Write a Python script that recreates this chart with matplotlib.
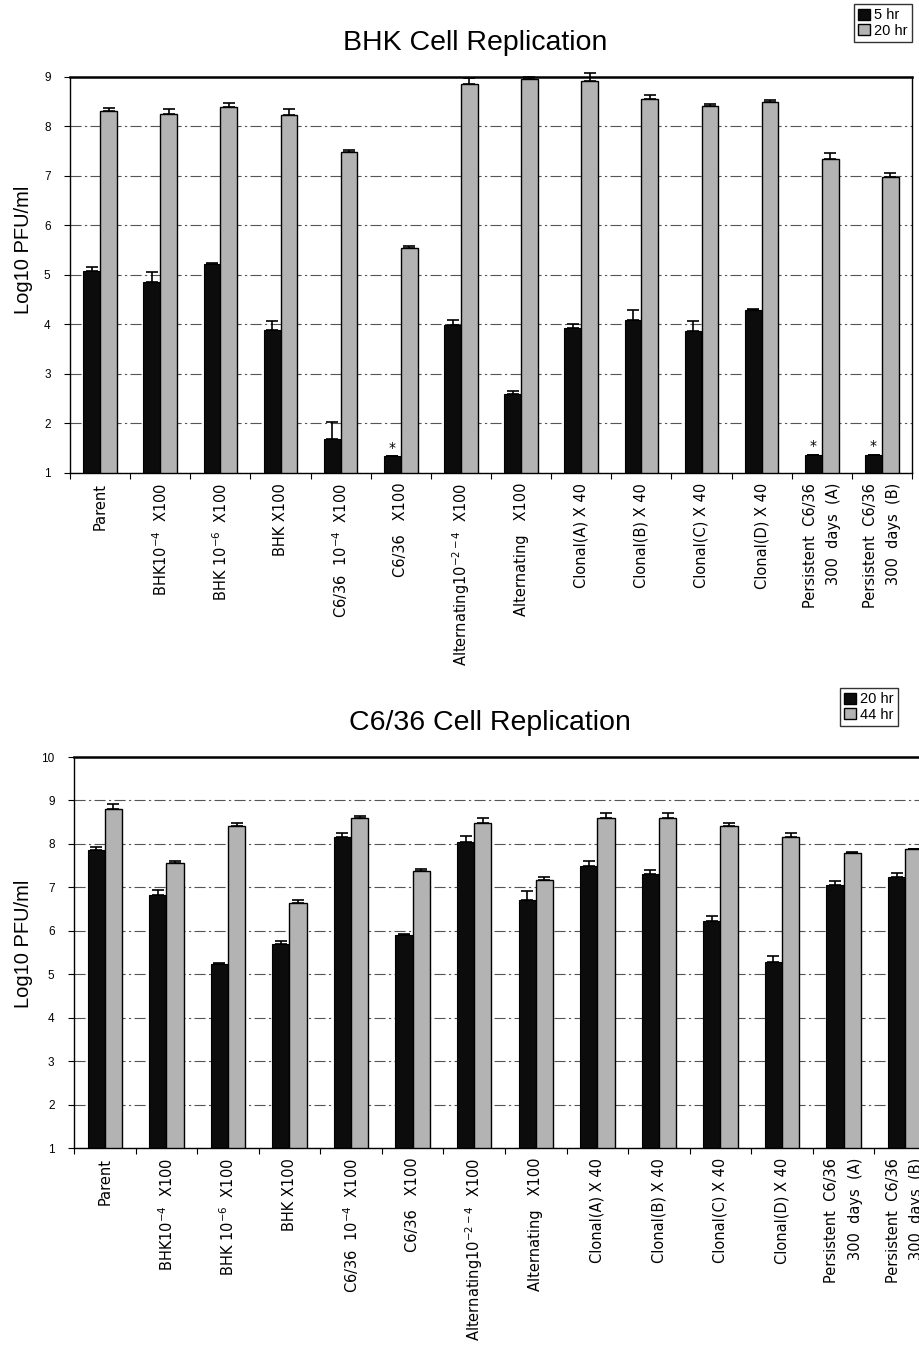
import numpy as np
import matplotlib.pyplot as plt
from matplotlib.patches import Patch

plt.rcParams['font.family'] = ['DejaVu Sans']
plt.rcParams['mathtext.default'] = 'regular'

# 类别标签（两张图共用）
labels = ['Parent', 'BHK10$^{-4}$  X100', 'BHK 10$^{-6}$  X100', 'BHK X100',
          'C6/36  10$^{-4}$  X100', 'C6/36   X100', 'Alternating10$^{-2-4}$  X100',
          'Alternating   X100', 'Clonal(A) X 40', 'Clonal(B) X 40',
          'Clonal(C) X 40', 'Clonal(D) X 40',
          'Persistent  C6/36\n300  days  (A)', 'Persistent  C6/36\n300  days  (B)']

# BHK 细胞复制，5 hr / 20 hr
bhk_5hr = [5.08, 4.85, 5.22, 3.89, 1.69, 1.34, 3.99, 2.59, 3.92, 4.09, 3.87, 4.29, 1.37, 1.37]
bhk_5hr_err = [0.09, 0.20, 0.03, 0.18, 0.33, 0.0, 0.10, 0.07, 0.08, 0.20, 0.19, 0.02, 0.0, 0.0]
bhk_20hr = [8.31, 8.26, 8.39, 8.23, 7.48, 5.55, 8.85, 8.95, 8.92, 8.55, 8.42, 8.50, 7.34, 6.98]
bhk_20hr_err = [0.07, 0.10, 0.09, 0.12, 0.04, 0.04, 0.13, 0.05, 0.16, 0.09, 0.03, 0.04, 0.13, 0.07]
bhk_star = [5, 12, 13]  # 标 * 的黑色柱

# C6/36 细胞复制，20 hr / 44 hr
c636_20hr = [7.87, 6.83, 5.24, 5.69, 8.16, 5.90, 8.04, 6.72, 7.49, 7.30, 6.23, 5.29, 7.06, 7.24]
c636_20hr_err = [0.07, 0.12, 0.01, 0.08, 0.08, 0.02, 0.15, 0.20, 0.12, 0.09, 0.11, 0.13, 0.08, 0.08]
c636_44hr = [8.80, 7.56, 8.41, 6.63, 8.60, 7.37, 8.47, 7.18, 8.60, 8.60, 8.41, 8.16, 7.78, 7.89]
c636_44hr_err = [0.11, 0.04, 0.08, 0.07, 0.04, 0.06, 0.12, 0.06, 0.12, 0.12, 0.08, 0.08, 0.04, 0.0]

DARK = '#0c0c0c'
LIGHT = '#b3b3b3'
W = 0.28  # 柱宽


def panel(ax, v1, e1, v2, e2, ymax, stars=()):
    x = np.arange(len(labels))
    ax.bar(x - W/2, v1, W, color=DARK, edgecolor='black', lw=0.8, zorder=2)
    ax.bar(x + W/2, v2, W, color=LIGHT, edgecolor='black', lw=1.0, zorder=2)
    # 只画向上的误差线
    ax.errorbar(x - W/2, v1, yerr=[np.zeros(len(x)), e1], fmt='none', ecolor='black',
                elinewidth=1.2, capsize=4, capthick=1.2, zorder=3, clip_on=False)
    ax.errorbar(x + W/2, v2, yerr=[np.zeros(len(x)), e2], fmt='none', ecolor='black',
                elinewidth=1.2, capsize=4, capthick=1.2, zorder=3, clip_on=False)
    for i in stars:
        ax.text(x[i] - W/2, v1[i] + 0.03, '*', ha='center', va='bottom', fontsize=10)
    ax.set_xlim(-0.5, len(x) - 0.5)
    ax.set_ylim(1, ymax)
    ax.set_yticks(range(1, ymax + 1))
    ax.tick_params(axis='y', labelsize=8.5, length=4, width=0.8, pad=10)
    for t in ax.get_yticklabels():
        t.set_family('Liberation Sans')
    ax.set_xticks(x)
    ax.set_xticklabels(labels, rotation=90, fontsize=10.5, va='top', ha='center',
                       multialignment='right', linespacing=1.7)
    ax.set_xticks(np.arange(len(x) + 1) - 0.5, minor=True)
    ax.tick_params(axis='x', which='major', length=0, pad=7)
    ax.tick_params(axis='x', which='minor', length=4, width=0.8)
    ax.yaxis.grid(True, linestyle=(0, (10, 3, 2, 3)), color='#555555', lw=0.8)
    ax.set_axisbelow(True)
    for s in ax.spines.values():
        s.set_linewidth(1.0)
    ax.spines['top'].set_linewidth(1.8)


fig = plt.figure(figsize=(9.2, 13.47), dpi=100)

# 上图：BHK
ax1 = fig.add_axes([0.0761, 0.6489, 0.9152, 0.2940])
panel(ax1, bhk_5hr, bhk_5hr_err, bhk_20hr, bhk_20hr_err, 9, bhk_star)
fig.text(475/920, 1 - 43/1347, 'BHK Cell Replication', ha='center', va='center',
         fontsize=20.5, family='Liberation Sans')
fig.text(24/920, 1 - 250/1347, 'Log10 PFU/ml', rotation=90, ha='center', va='center',
         fontsize=14.5, family='Liberation Sans')
fig.legend(handles=[Patch(facecolor=DARK, edgecolor='black'),
                    Patch(facecolor=LIGHT, edgecolor='black')],
           labels=['5 hr', '20 hr'], loc='upper right',
           bbox_to_anchor=(912/920, 1 - 4/1347), frameon=True,
           fancybox=False, edgecolor='black', handlelength=0.8, handleheight=0.8,
           handletextpad=0.3, borderpad=0.3, labelspacing=0.1, borderaxespad=0,
           prop={'family': 'Liberation Sans', 'size': 10.5})

# 下图：C6/36
ax2 = fig.add_axes([0.0804, 0.1477, 0.937, 0.2903])
panel(ax2, c636_20hr, c636_20hr_err, c636_44hr, c636_44hr_err, 10)
fig.text(490/920, 1 - 723/1347, 'C6/36 Cell Replication', ha='center', va='center',
         fontsize=20.5, family='Liberation Sans')
fig.text(24/920, 1 - 944/1347, 'Log10 PFU/ml', rotation=90, ha='center', va='center',
         fontsize=14.5, family='Liberation Sans')
fig.legend(handles=[Patch(facecolor=DARK, edgecolor='black'),
                    Patch(facecolor=LIGHT, edgecolor='black')],
           labels=['20 hr', '44 hr'], loc='upper left',
           bbox_to_anchor=(840/920, 1 - 688/1347), frameon=True,
           fancybox=False, edgecolor='black', handlelength=0.8, handleheight=0.8,
           handletextpad=0.3, borderpad=0.3, labelspacing=0.1, borderaxespad=0,
           prop={'family': 'Liberation Sans', 'size': 10.5})

fig.savefig('out.png', dpi=100)
